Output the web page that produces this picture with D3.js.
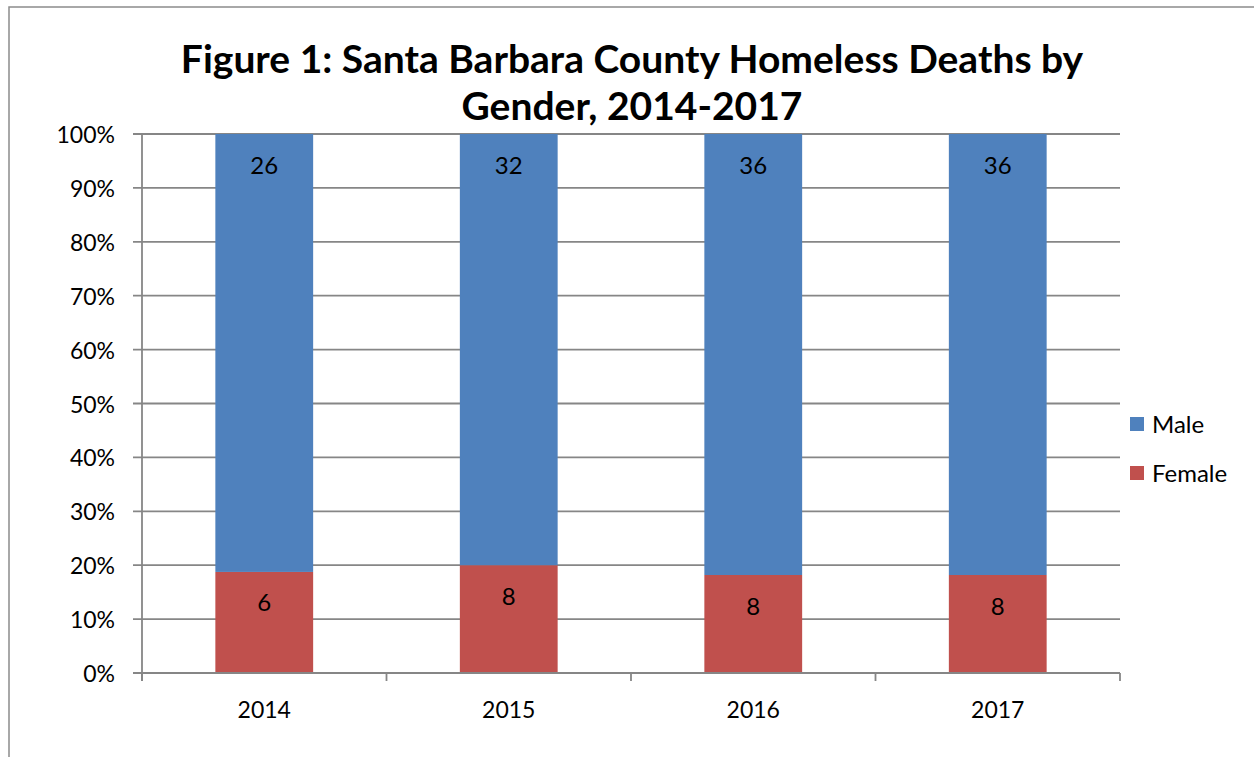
<!DOCTYPE html>
<html>
<head>
<meta charset="utf-8">
<script src="https://cdnjs.cloudflare.com/ajax/libs/d3/7.8.5/d3.min.js"></script>
<style>
  html, body { margin: 0; padding: 0; background: #fff; }
  svg { display: block; }
  text { font-family: Lato, "Open Sans", "Liberation Sans", sans-serif; fill: #000; }
</style>
</head>
<body>
<svg id="chart" width="1254" height="757"></svg>
<script>
// Homeless deaths by gender per year (counts), shown as 100% stacked columns
const years = ["2014", "2015", "2016", "2017"];
const male = [26, 32, 36, 36];
const female = [6, 8, 8, 8];
const seriesNames = ["Male", "Female"];
const seriesColors = ["#4F81BD", "#C0504D"];
const yTicks = [0, 0.1, 0.2, 0.3, 0.4, 0.5, 0.6, 0.7, 0.8, 0.9, 1.0];
const titleLines = ["Figure 1: Santa Barbara County Homeless Deaths by", "Gender, 2014-2017"];

const svg = d3.select("#chart");
const W = 1254, H = 757;

// chart frame
svg.append("rect")
  .attr("x", 9).attr("y", 7).attr("width", W + 20).attr("height", H + 20)
  .attr("fill", "#fff").attr("stroke", "#8c8c8c").attr("stroke-width", 1.5);

const plot = { left: 142, right: 1120, top: 134, bottom: 673 };

const x = d3.scaleBand().domain(years).range([plot.left, plot.right]).paddingInner(0.6).paddingOuter(0.3);
const xCat = d3.scaleBand().domain(years).range([plot.left, plot.right]);
const y = d3.scaleLinear().domain([0, 1]).range([plot.bottom, plot.top]);

// gridlines
svg.append("g").selectAll("line").data(yTicks).join("line")
  .attr("x1", plot.left - 9).attr("x2", plot.right)
  .attr("y1", d => y(d)).attr("y2", d => y(d))
  .attr("stroke", "#868686").attr("stroke-width", 1.8);

// y tick labels
svg.append("g").selectAll("text").data(yTicks).join("text")
  .attr("x", plot.left - 27).attr("y", d => y(d))
  .attr("text-anchor", "end").attr("dominant-baseline", "central")
  .style("font-size", "23px")
  .text(d => d3.format(".0%")(d));

// stacked data
const rows = years.map((yr, i) => ({ year: yr, Male: male[i], Female: female[i], total: male[i] + female[i] }));
const stack = d3.stack().keys(["Female", "Male"]).offset(d3.stackOffsetExpand);
const layers = stack(rows);

const g = svg.append("g");
layers.forEach(layer => {
  const color = seriesColors[seriesNames.indexOf(layer.key)];
  g.append("g").selectAll("rect").data(layer).join("rect")
    .attr("x", d => x(d.data.year))
    .attr("width", x.bandwidth())
    .attr("y", d => y(d[1]))
    .attr("height", d => y(d[0]) - y(d[1]))
    .attr("fill", color);
  // value labels near the inside top of each segment
  g.append("g").selectAll("text").data(layer).join("text")
    .attr("x", d => x(d.data.year) + x.bandwidth() / 2)
    .attr("y", d => y(d[1]) + 30)
    .attr("text-anchor", "middle").attr("dominant-baseline", "central")
    .style("font-size", "24px")
    .text(d => d.data[layer.key]);
});

// y axis line
svg.append("line")
  .attr("x1", plot.left).attr("x2", plot.left)
  .attr("y1", plot.top).attr("y2", plot.bottom + 8)
  .attr("stroke", "#868686").attr("stroke-width", 1.8);

// x axis line and category ticks
svg.append("line")
  .attr("x1", plot.left).attr("x2", plot.right)
  .attr("y1", plot.bottom).attr("y2", plot.bottom)
  .attr("stroke", "#868686").attr("stroke-width", 1.8);
const bounds = years.map(d => xCat(d)).concat([plot.right]);
svg.append("g").selectAll("line").data(bounds).join("line")
  .attr("x1", d => d).attr("x2", d => d)
  .attr("y1", plot.bottom).attr("y2", plot.bottom + 8)
  .attr("stroke", "#868686").attr("stroke-width", 1.8);

svg.append("g").selectAll("text").data(years).join("text")
  .attr("x", d => xCat(d) + xCat.bandwidth() / 2)
  .attr("y", 709)
  .attr("text-anchor", "middle").attr("dominant-baseline", "central")
  .style("font-size", "23px")
  .text(d => d);

// title
svg.append("g").selectAll("text").data(titleLines).join("text")
  .attr("x", 632).attr("y", (d, i) => 58 + i * 47)
  .attr("text-anchor", "middle").attr("dominant-baseline", "central")
  .style("font-size", "39px").style("font-weight", "bold")
  .text(d => d);

// legend
const legend = svg.append("g").selectAll("g").data(seriesNames).join("g")
  .attr("transform", (d, i) => `translate(1130, ${424 + i * 49})`);
legend.append("rect").attr("x", 0).attr("y", -7).attr("width", 14).attr("height", 14)
  .attr("fill", (d, i) => seriesColors[i]);
legend.append("text").attr("x", 22).attr("y", -1)
  .attr("dominant-baseline", "central").style("font-size", "24px")
  .text(d => d);
</script>
</body>
</html>
